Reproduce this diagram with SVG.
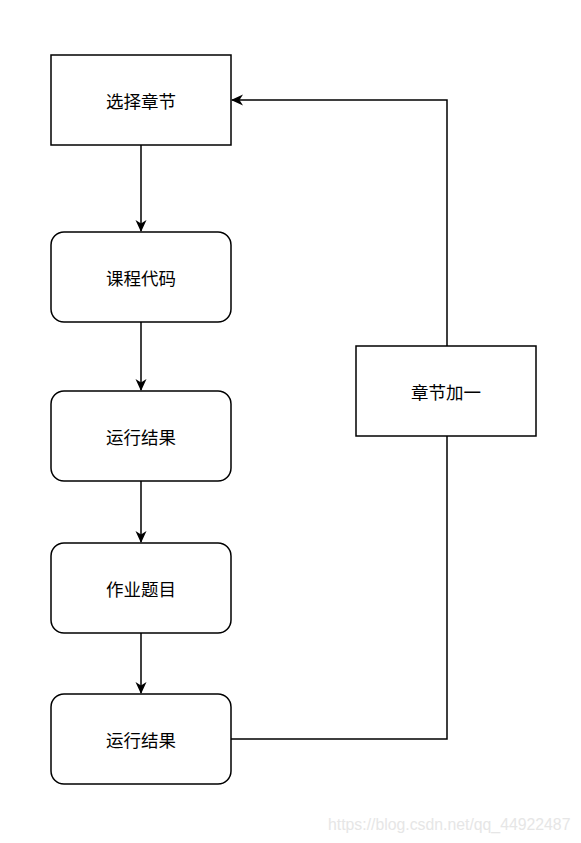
<svg xmlns="http://www.w3.org/2000/svg" width="581" height="843" viewBox="0 0 581 843">
<defs>
<style>
.box{fill:#fff;stroke:#000;stroke-width:1.5}
.lbl{font-family:"Noto Sans CJK SC","Noto Sans",sans-serif;font-size:17.5px;fill:#000;text-anchor:middle;dominant-baseline:central}
.edge{fill:none;stroke:#000;stroke-width:1.5}
.wm{font-family:"Liberation Sans",Arial,sans-serif;font-size:15.8px;fill:#e6e6e6}
</style>
<marker id="arr" viewBox="0 0 12 12" refX="11" refY="6" markerWidth="12" markerHeight="12" markerUnits="userSpaceOnUse" orient="auto">
<path d="M0,0.5 L12,6 L0,11.5 L3.5,6 Z" fill="#000"/>
</marker>
</defs>
<rect width="581" height="843" fill="#fff"/>
<g id="connectors">
<line class="edge" x1="141" y1="145" x2="141" y2="231" marker-end="url(#arr)"/>
<line class="edge" x1="141" y1="322" x2="141" y2="390" marker-end="url(#arr)"/>
<line class="edge" x1="141" y1="481" x2="141" y2="542" marker-end="url(#arr)"/>
<line class="edge" x1="141" y1="633" x2="141" y2="693" marker-end="url(#arr)"/>
<polyline class="edge" points="231,739 447,739 447,436"/>
<polyline class="edge" points="447,346 447,100 232,100" marker-end="url(#arr)"/>
</g>
<g id="n1"><rect class="box" x="51" y="55" width="180" height="90"/><text class="lbl" x="141" y="100">选择章节</text></g>
<g id="n2"><rect class="box" x="51" y="232" width="180" height="90" rx="13"/><text class="lbl" x="141" y="277">课程代码</text></g>
<g id="n3"><rect class="box" x="51" y="391" width="180" height="90" rx="13"/><text class="lbl" x="141" y="436">运行结果</text></g>
<g id="n4"><rect class="box" x="51" y="543" width="180" height="90" rx="13"/><text class="lbl" x="141" y="588">作业题目</text></g>
<g id="n5"><rect class="box" x="51" y="694" width="180" height="90" rx="13"/><text class="lbl" x="141" y="739">运行结果</text></g>
<g id="n6"><rect class="box" x="356" y="346" width="180" height="90"/><text class="lbl" x="446" y="391">章节加一</text></g>
<text class="wm" x="328" y="830">https://blog.csdn.net/qq_44922487</text>
</svg>
